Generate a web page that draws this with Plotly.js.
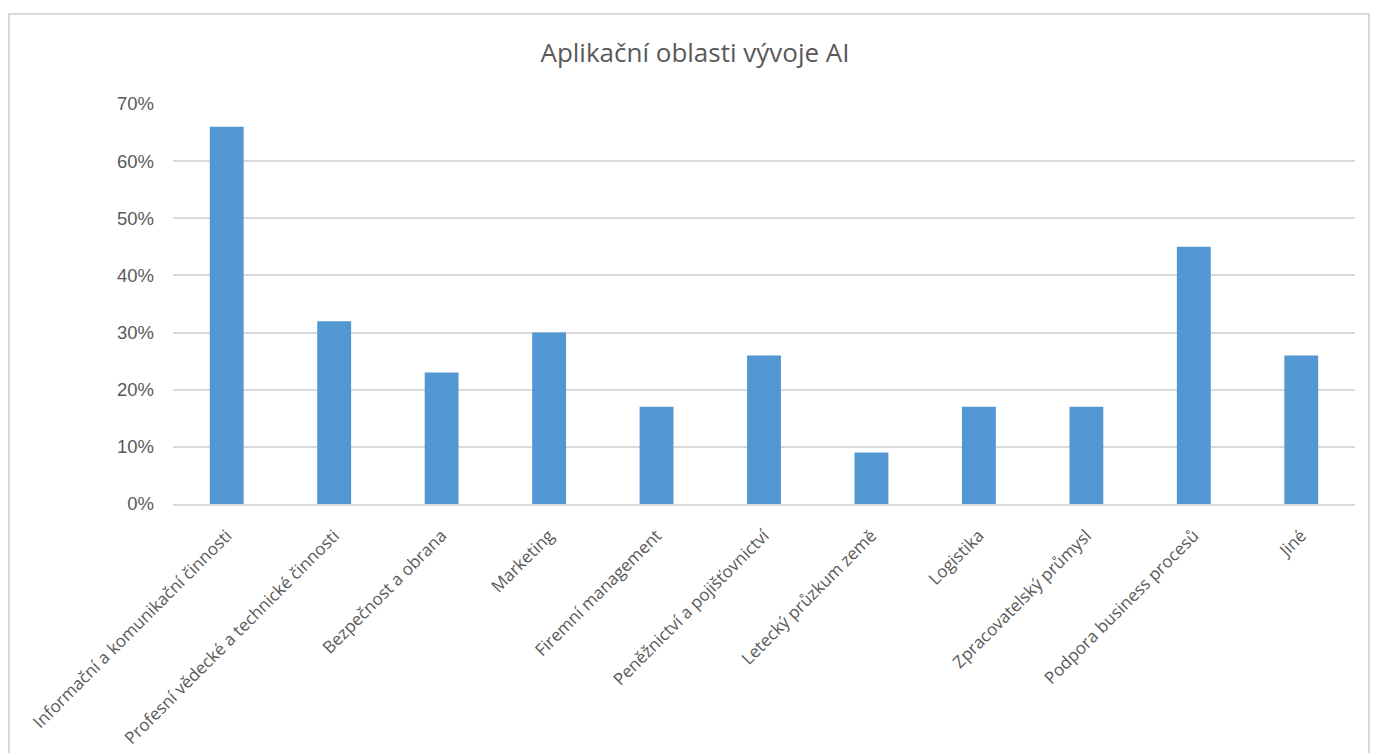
<!DOCTYPE html>
<html>
<head>
<meta charset="utf-8">
<script src="https://cdn.plot.ly/plotly-3.0.1.min.js"></script>
<style>
  html, body { margin: 0; padding: 0; background: #ffffff; overflow: hidden; }
  #chart { position: absolute; left: 0; top: 0; width: 1373px; height: 753px; }
  #frame { position: absolute; left: 8px; top: 13px; width: 1362px; height: 760px;
           border: 2px solid #d9d9d9; pointer-events: none; box-sizing: border-box; }
</style>
</head>
<body>
<div id="chart"></div>
<div id="frame"></div>
<script>
const categories = [
  "Informační a komunikační činnosti",
  "Profesní vědecké a technické činnosti",
  "Bezpečnost a obrana",
  "Marketing",
  "Firemní management",
  "Peněžnictví a pojišťovnictví",
  "Letecký průzkum země",
  "Logistika",
  "Zpracovatelský průmysl",
  "Podpora business procesů",
  "Jiné"
];
const shares = [0.66, 0.32, 0.23, 0.30, 0.17, 0.26, 0.09, 0.17, 0.17, 0.45, 0.26];
const yTickValues = [0, 0.1, 0.2, 0.3, 0.4, 0.5, 0.6, 0.7];
const yTickLabels = ["0%", "10%", "20%", "30%", "40%", "50%", "60%", "70%"];
const chartTitle = "Aplikační oblasti vývoje AI";

const trace = {
  type: "bar",
  x: categories,
  y: shares,
  marker: { color: "#5297d2" },
  hoverinfo: "x+y"
};

const layout = {
  width: 1373,
  height: 753,
  margin: { l: 173, r: 18, t: 104, b: 249 },
  paper_bgcolor: "#ffffff",
  plot_bgcolor: "#ffffff",
  showlegend: false,
  bargap: 0.685,
  title: {
    text: chartTitle,
    x: 695 / 1373,
    xanchor: "center",
    xref: "container",
    y: 1 - 53 / 753,
    yanchor: "middle",
    yref: "container",
    font: { family: "Open Sans, Noto Sans, sans-serif", size: 26, color: "#595959" }
  },
  xaxis: {
    type: "category",
    tickangle: -45,
    tickfont: { family: "Open Sans, Noto Sans, sans-serif", size: 17, color: "#595959" },
    showgrid: false,
    showline: true,
    linecolor: "#d9d9d9",
    linewidth: 2,
    ticks: "",
    ticklabelstandoff: 13,
    zeroline: false
  },
  yaxis: {
    range: [0, 0.7],
    tickvals: yTickValues,
    ticktext: yTickLabels,
    tickfont: { family: "Liberation Sans, Arial, sans-serif", size: 18.5, color: "#595959" },
    showgrid: true,
    gridcolor: "#d9d9d9",
    gridwidth: 2,
    zeroline: false,
    showline: false,
    ticks: "",
    ticklabelstandoff: 18
  }
};

Plotly.newPlot("chart", [trace], layout, { displayModeBar: false, staticPlot: true });
</script>
</body>
</html>
